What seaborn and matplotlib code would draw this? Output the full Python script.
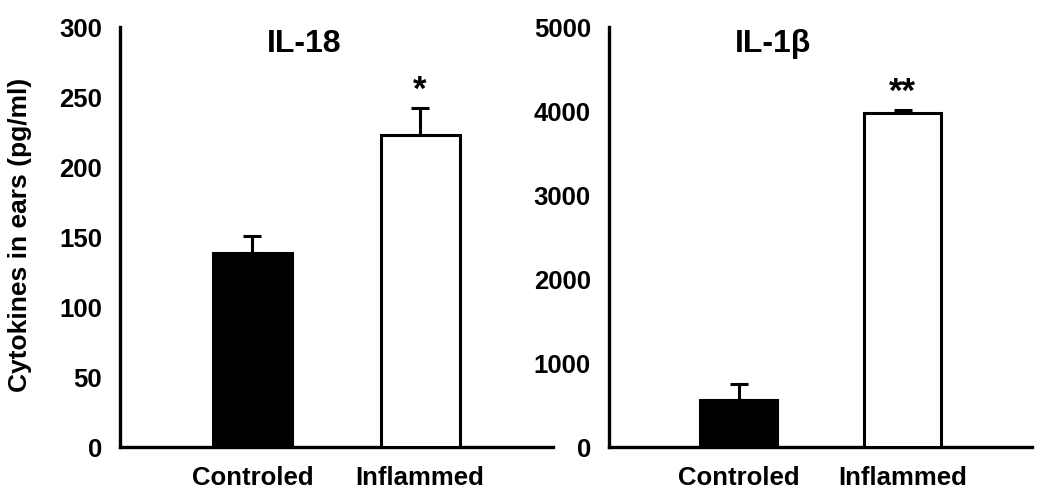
"""Cytokine levels in ears: IL-18 and IL-1beta, controled vs inflamed."""
import matplotlib
matplotlib.use("Agg")
import matplotlib.pyplot as plt
import pandas as pd
import seaborn as sns

GROUPS = ["Controled", "Inflammed"]
IL18_MEAN = [139, 223]
IL18_SEM = [12, 19]
IL1B_MEAN = [555, 3980]
IL1B_SEM = [190, 35]
STARS = ["*", "**"]

COLORS = ["black", "white"]
FONT = ["Liberation Sans", "DejaVu Sans"]


def draw_panel(ax, means, sems, title, title_x, star, ymax, step):
    df = pd.DataFrame({"grupo": GROUPS, "valor": means})
    sns.barplot(data=df, x="grupo", y="valor", hue="grupo", palette=COLORS,
                edgecolor="black", linewidth=2.2, width=0.47, legend=False,
                ax=ax, zorder=3)
    ax.errorbar(range(len(GROUPS)), means, yerr=[[0] * len(sems), sems],
                fmt="none", ecolor="black", elinewidth=2.2, capsize=6.5,
                capthick=2.2, zorder=2)
    top = means[-1] + sems[-1]
    ax.annotate(star, xy=(len(GROUPS) - 1, top), xytext=(0, 1),
                textcoords="offset points", ha="center", va="bottom",
                fontsize=25, fontweight="bold")
    ax.text(title_x, 0.96, title, transform=ax.transAxes, ha="center",
            va="center", fontsize=23, fontweight="bold")
    ax.set_ylim(0, ymax)
    ax.set_yticks(range(0, ymax + 1, step))
    ax.set_xlim(-0.79, 1.79)
    ax.set_xlabel("")
    ax.set_ylabel("")
    sns.despine(ax=ax)
    for side in ["left", "bottom"]:
        ax.spines[side].set_linewidth(2.4)
    ax.tick_params(axis="y", length=6, width=2.4, pad=7, labelsize=18.5)
    ax.tick_params(axis="x", length=0, pad=14, labelsize=18.5)
    for lab in ax.get_xticklabels() + ax.get_yticklabels():
        lab.set_fontweight("bold")


def main():
    sns.set_style("white")
    plt.rcParams["font.family"] = FONT
    plt.rcParams["font.weight"] = "bold"
    for key in ["text.color", "axes.labelcolor", "axes.edgecolor",
                "xtick.color", "ytick.color"]:
        plt.rcParams[key] = "black"

    fig = plt.figure(figsize=(10.5, 5.04), dpi=100)
    ax1 = fig.add_axes([0.1143, 0.113, 0.412, 0.833])
    ax2 = fig.add_axes([0.580, 0.113, 0.403, 0.833])

    draw_panel(ax1, IL18_MEAN, IL18_SEM, "IL-18", 0.425, STARS[0], 300, 50)
    draw_panel(ax2, IL1B_MEAN, IL1B_SEM, "IL-1β", 0.388, STARS[1], 5000, 1000)

    ax1.set_ylabel("Cytokines in ears (pg/ml)", fontsize=19, fontweight="bold")
    ax1.yaxis.set_label_coords(-0.203, 0.505)

    fig.savefig("out.png", dpi=100)
    plt.close(fig)


if __name__ == "__main__":
    main()
